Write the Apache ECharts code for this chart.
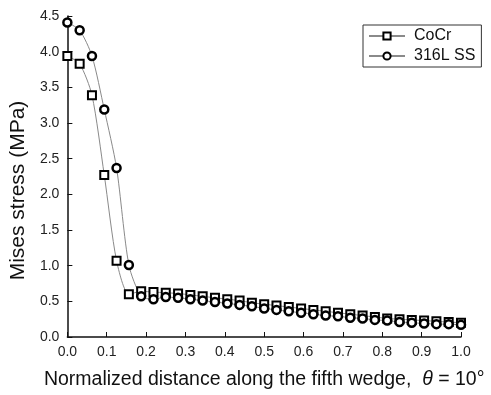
<!DOCTYPE html>
<html>
<head>
<meta charset="utf-8">
<script src="https://cdn.jsdelivr.net/npm/echarts@6/dist/echarts.min.js"></script>
<style>
  html, body { margin: 0; padding: 0; background: #fff; }
  #chart { width: 491px; height: 395px; }
</style>
</head>
<body>
<div id="chart"></div>
<script>
// Normalized positions along the wedge (33 sample points, step 1/32)
const positions = [
  0, 0.03125, 0.0625, 0.09375, 0.125, 0.15625, 0.1875, 0.21875, 0.25, 0.28125,
  0.3125, 0.34375, 0.375, 0.40625, 0.4375, 0.46875, 0.5, 0.53125, 0.5625, 0.59375,
  0.625, 0.65625, 0.6875, 0.71875, 0.75, 0.78125, 0.8125, 0.84375, 0.875, 0.90625,
  0.9375, 0.96875, 1.0
];

// von Mises stress (MPa) for each stent material
const cocrStress = [
  3.94, 3.83, 3.39, 2.27, 1.07, 0.60, 0.64, 0.63, 0.62, 0.61,
  0.59, 0.57, 0.55, 0.53, 0.51, 0.48, 0.46, 0.44, 0.42, 0.40,
  0.38, 0.36, 0.34, 0.32, 0.30, 0.28, 0.26, 0.25, 0.24, 0.23,
  0.22, 0.21, 0.20
];
const ssStress = [
  4.41, 4.30, 3.94, 3.19, 2.37, 1.01, 0.57, 0.53, 0.56, 0.55,
  0.53, 0.51, 0.49, 0.47, 0.45, 0.43, 0.40, 0.38, 0.36, 0.34,
  0.32, 0.30, 0.29, 0.27, 0.26, 0.24, 0.23, 0.21, 0.20, 0.19,
  0.18, 0.18, 0.17
];

const seriesNames = ['CoCr', '316L SS'];

const pair = (ys) => positions.map((x, i) => [x, ys[i]]);

const chart = echarts.init(document.getElementById('chart'), null, { renderer: 'canvas' });

const font = 'Arial, "Liberation Sans", sans-serif';
const axisLine = { show: true, lineStyle: { color: '#111', width: 1.5 } };
const axisTick = { show: true, inside: true, length: 5, lineStyle: { color: '#111', width: 1 } };

function lineSeries(name, data, symbol, size, border) {
  return {
    name: name,
    type: 'line',
    data: data,
    smooth: 0.25,
    symbol: symbol,
    symbolSize: size,
    showAllSymbol: true,
    lineStyle: { color: '#8a8a8a', width: 1 },
    itemStyle: { color: '#fff', borderColor: '#000', borderWidth: border },
    emphasis: { disabled: true },
    z: 3
  };
}

chart.setOption({
  animation: false,
  backgroundColor: '#fff',
  textStyle: { fontFamily: font },
  grid: { left: 67, right: 30, top: 16, bottom: 58, containLabel: false },
  legend: {
    orient: 'vertical',
    left: 363,
    top: 25,
    width: 114,
    padding: [3, 6, 3, 5],
    itemGap: 4,
    itemWidth: 36,
    itemHeight: 9,
    borderColor: '#333',
    borderWidth: 1,
    textStyle: { fontFamily: font, fontSize: 16, color: '#111', padding: [0, 0, 0, 4] },
    data: seriesNames
  },
  xAxis: {
    type: 'value',
    min: 0,
    max: 1,
    interval: 0.1,
    axisLine: axisLine,
    axisTick: axisTick,
    splitLine: { show: false },
    axisLabel: {
      color: '#222', fontSize: 14, fontFamily: font, margin: 8,
      formatter: (v) => v.toFixed(1)
    },
    name: 'Normalized distance along the fifth wedge,  {i|θ} = 10°',
    nameLocation: 'middle',
    nameGap: 33,
    nameTextStyle: {
      color: '#111', fontSize: 19.5, fontFamily: font,
      rich: { i: { fontStyle: 'italic', fontSize: 19.5, fontFamily: font, color: '#111' } }
    }
  },
  yAxis: {
    type: 'value',
    min: 0,
    max: 4.5,
    interval: 0.5,
    axisLine: axisLine,
    axisTick: axisTick,
    splitLine: { show: false },
    axisLabel: {
      color: '#222', fontSize: 14, fontFamily: font, margin: 8,
      formatter: (v) => v.toFixed(1)
    },
    name: 'Mises stress (MPa)',
    nameLocation: 'middle',
    nameGap: 35,
    nameTextStyle: { color: '#111', fontSize: 21, fontFamily: font, padding: [0, 28, 0, 0] }
  },
  series: [
    lineSeries(seriesNames[0], pair(cocrStress), 'rect', 8, 2),
    lineSeries(seriesNames[1], pair(ssStress), 'circle', 8, 2.5)
  ]
});
</script>
</body>
</html>
